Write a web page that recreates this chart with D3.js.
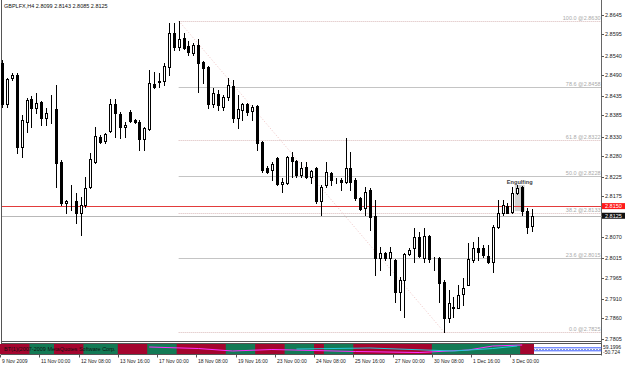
<!DOCTYPE html>
<html><head><meta charset="utf-8">
<script src="https://cdn.jsdelivr.net/npm/d3@7"></script>
<style>body{margin:0;background:#fff;overflow:hidden}svg{display:block;font-family:"Liberation Sans",Arial,sans-serif}</style>
</head><body><svg id="c" width="625" height="365"></svg>
<script>
const symbol = "GBPLFX,H4";
const lastOHLC = ["2.8099","2.8143","2.8085","2.8125"];
const opens = [2.8521,2.8414,2.8482,2.8490,2.8303,2.8368,2.8427,2.8404,2.8420,2.8378,2.8394,2.8402,2.8264,2.8158,2.8161,2.8163,2.8132,2.8153,2.8199,2.8264,
2.8329,2.8318,2.8344,2.8414,2.8389,2.8355,2.8394,2.8373,2.8368,2.8324,2.8350,2.8466,2.8474,2.8474,2.8510,2.8598,2.8562,2.8586,2.8565,2.8547,
2.8567,2.8523,2.8510,2.8414,2.8440,2.8407,2.8433,2.8461,2.8378,2.8399,2.8414,2.8396,2.8409,2.8316,2.8249,2.8244,2.8274,2.8207,2.8210,2.8277,
2.8267,2.8231,2.8251,2.8225,2.8249,2.8163,2.8205,2.8236,2.8218,2.8218,2.8212,2.8249,2.8218,2.8171,2.8145,2.8192,2.8124,2.8016,2.8029,2.8016,
2.8010,2.7928,2.7959,2.8026,2.8041,2.8070,2.8016,2.8073,2.8013,2.8016,2.7954,2.7860,2.7886,2.7886,2.7922,2.7946,2.8010,2.8041,2.8041,2.8021,
2.8005,2.8096,2.8132,2.8150,2.8135,2.8184,2.8199,2.8137,2.8099];
const highs = [2.8528,2.8482,2.8495,2.8495,2.8386,2.8430,2.8435,2.8443,2.8422,2.8404,2.8438,2.8464,2.8269,2.8166,2.8205,2.8184,2.8174,2.8225,2.8287,2.8355,
2.8334,2.8339,2.8427,2.8427,2.8394,2.8368,2.8399,2.8376,2.8373,2.8355,2.8503,2.8497,2.8495,2.8521,2.8624,2.8624,2.8630,2.8598,2.8578,2.8573,
2.8583,2.8526,2.8513,2.8456,2.8451,2.8438,2.8482,2.8477,2.8438,2.8417,2.8417,2.8412,2.8412,2.8318,2.8254,2.8264,2.8277,2.8223,2.8280,2.8290,
2.8269,2.8264,2.8264,2.8244,2.8251,2.8205,2.8264,2.8238,2.8223,2.8223,2.8326,2.8290,2.8223,2.8174,2.8199,2.8197,2.8166,2.8044,2.8031,2.8044,
2.8013,2.7966,2.8029,2.8041,2.8093,2.8083,2.8093,2.8075,2.8018,2.8018,2.7959,2.7933,2.7915,2.7946,2.7964,2.8054,2.8057,2.8070,2.8049,2.8049,
2.8101,2.8166,2.8166,2.8158,2.8199,2.8205,2.8202,2.8145,2.8143];
const lows = [2.8407,2.8407,2.8477,2.8287,2.8277,2.8342,2.8355,2.8391,2.8360,2.8360,2.8365,2.8199,2.8153,2.8132,2.8140,2.8106,2.8075,2.8148,2.8197,2.8262,
2.8313,2.8313,2.8342,2.8329,2.8326,2.8329,2.8368,2.8365,2.8295,2.8295,2.8347,2.8456,2.8459,2.8464,2.8490,2.8554,2.8554,2.8557,2.8541,2.8541,
2.8446,2.8469,2.8404,2.8407,2.8399,2.8399,2.8425,2.8368,2.8352,2.8373,2.8386,2.8373,2.8295,2.8238,2.8236,2.8218,2.8205,2.8186,2.8207,2.8225,
2.8225,2.8225,2.8223,2.8210,2.8158,2.8127,2.8199,2.8205,2.8210,2.8192,2.8210,2.8192,2.8166,2.8140,2.8127,2.8088,2.7972,2.7985,2.8010,2.7972,
2.7902,2.7881,2.7863,2.8023,2.8005,2.8018,2.8005,2.8005,2.7985,2.7902,2.7825,2.7850,2.7863,2.7886,2.7894,2.7946,2.8005,2.8010,2.8018,2.8003,
2.7979,2.8093,2.8127,2.8132,2.8132,2.8181,2.8127,2.8080,2.8085];
const closes = [2.8414,2.8479,2.8490,2.8303,2.8373,2.8425,2.8404,2.8417,2.8378,2.8391,2.8393,2.8262,2.8158,2.8163,2.8160,2.8132,2.8153,2.8197,2.8272,2.8331,
2.8316,2.8337,2.8414,2.8391,2.8355,2.8360,2.8370,2.8368,2.8324,2.8352,2.8469,2.8459,2.8472,2.8513,2.8598,2.8562,2.8583,2.8560,2.8549,2.8567,
2.8521,2.8508,2.8414,2.8443,2.8412,2.8433,2.8464,2.8378,2.8402,2.8414,2.8394,2.8407,2.8313,2.8244,2.8238,2.8259,2.8207,2.8212,2.8277,2.8267,
2.8231,2.8249,2.8225,2.8241,2.8163,2.8199,2.8238,2.8218,2.8217,2.8212,2.8249,2.8212,2.8171,2.8142,2.8186,2.8122,2.8016,2.8029,2.8016,2.8031,
2.7928,2.7959,2.8026,2.8036,2.8070,2.8021,2.8073,2.8013,2.8012,2.7951,2.7860,2.7899,2.7888,2.7920,2.7938,2.8013,2.8041,2.8031,2.8023,2.8005,
2.8096,2.8132,2.8153,2.8132,2.8184,2.8197,2.8137,2.8096,2.8125];

const timeLabels = ["9 Nov 2009","11 Nov 00:00","12 Nov 08:00","13 Nov 16:00","17 Nov 00:00","18 Nov 08:00","19 Nov 16:00","23 Nov 00:00","24 Nov 08:00","25 Nov 16:00","27 Nov 00:00","30 Nov 08:00","1 Dec 16:00","3 Dec 00:00"];
const timeLabelBars = [0,8,16,24,32,40,48,56,64,72,80,88,96,104];
const priceTicks = [2.8645,2.8595,2.8540,2.8490,2.8435,2.8385,2.8330,2.8280,2.8225,2.8175,2.8070,2.8015,2.7965,2.7910,2.7860,2.7805];

const fibRatios = [0,23.6,38.2,50,61.8,78.6,100];
const fibLabels = ["0.0 @2.7825","23.6 @2.8015","38.2 @2.8133","50.0 @2.8228","61.8 @2.8322","78.6 @2.8458","100.0 @2.8630"];
const fibDotted = [true,false,true,false,true,false,true];
const fibHigh = 2.8630, fibLow = 2.7825, fibHighBar = 36, fibLowBar = 90;

const askPrice = 2.8150, bidPrice = 2.8125;
const patternName = "Engulfing", patternBars = [105,106], patternRange = [2.8137,2.8205];

const subFrom  = [0,6,11,17,24,30,36,46,52,58,64,66,72,88,106];
const subTo    = [6,11,17,24,30,36,46,52,58,64,66,72,88,106,108];
const subState = ["dn","up","dn","up","dn","up","dn","up","dn","up","dn","up","dn","up","dn"];
const magBars = [30,40,47,55,72,85,95,100,106];
const magVals = [0.3,0.45,0.7,0.55,0.75,0.85,0.6,0.2,0.1];
const cyanBars = [60,75,92,100,105];
const cyanVals = [0.5,0.4,0.7,0.45,0.2];
const subTitle = "BT(1)(2007-2009 MetaQuotes Software Corp.";
const subAxisLabels = ["59.1996","-50.724"];

const svg = d3.select("#c");
const axisX = 601.5, mainBottom = 341.5, subTop = 343.5, subBottom = 354.5;
const x = d3.scaleLinear().domain([0, opens.length - 1]).range([2, 532]);
const y = d3.scaleLinear().domain([2.7805, 2.8645]).range([339.3, 15]);
const sy = d3.scaleLinear().domain([0, 1]).range([subTop + 0.5, subBottom - 0.5]);
const px = v => Math.round(v) + 0.5;
const fs = 5.5;

// frame
svg.append("line").attr("x1",1.5).attr("x2",1.5).attr("y1",0).attr("y2",subBottom).attr("stroke","#555");
svg.append("line").attr("x1",1.5).attr("x2",axisX).attr("y1",mainBottom).attr("y2",mainBottom).attr("stroke","#555");
svg.append("line").attr("x1",axisX).attr("x2",axisX).attr("y1",0).attr("y2",subBottom+1).attr("stroke","#666");

// pattern highlight box
svg.append("rect")
  .attr("x", x(patternBars[0]) - 2.5).attr("width", x(patternBars[1]) - x(patternBars[0]) + 5)
  .attr("y", y(patternRange[1])).attr("height", y(patternRange[0]) - y(patternRange[1]))
  .attr("fill", "#d4d4d4");

// fibo levels
const fibY = fibRatios.map(r => y(fibLow + r / 100 * (fibHigh - fibLow)));
fibRatios.forEach((r, i) => {
  svg.append("line").attr("x1", x(fibHighBar)).attr("x2", axisX - 0.5)
    .attr("y1", px(fibY[i])).attr("y2", px(fibY[i]))
    .attr("stroke", fibDotted[i] ? "#d9b9b9" : "#c4c4c4")
    .attr("stroke-dasharray", fibDotted[i] ? "1,1" : null);
  svg.append("text").attr("x", axisX - 1).attr("y", px(fibY[i]) - 1.5)
    .attr("text-anchor", "end").attr("font-size", fs).attr("fill", "#aaa").text(fibLabels[i]);
});
svg.append("line").attr("x1", x(fibHighBar)).attr("y1", y(fibHigh)).attr("x2", x(fibLowBar)).attr("y2", y(fibLow))
  .attr("stroke", "#f0c4c4").attr("stroke-dasharray", "1,2");

// bid / ask lines
svg.append("line").attr("x1",2).attr("x2",axisX).attr("y1",px(y(bidPrice))).attr("y2",px(y(bidPrice))).attr("stroke","#b8b8b8");
svg.append("line").attr("x1",2).attr("x2",axisX).attr("y1",px(y(askPrice))).attr("y2",px(y(askPrice))).attr("stroke","#e23b3b");

// candles
const data = opens.map((o, i) => ({i, o, h: highs[i], l: lows[i], c: closes[i]}));
const g = svg.append("g").attr("shape-rendering", "crispEdges");
g.selectAll(".w").data(data).join("line")
  .attr("x1", d => Math.round(x(d.i)) + 0.5).attr("x2", d => Math.round(x(d.i)) + 0.5)
  .attr("y1", d => Math.round(y(d.h))).attr("y2", d => Math.round(y(d.l)) + 1)
  .attr("stroke", "#000");
g.selectAll(".b").data(data).join("rect")
  .attr("x", d => Math.round(x(d.i)) - 0.5).attr("width", 2)
  .attr("y", d => Math.round(y(Math.max(d.o, d.c))) + 0.5)
  .attr("height", d => Math.max(0, Math.round(y(Math.min(d.o, d.c))) - Math.round(y(Math.max(d.o, d.c)))))
  .attr("fill", d => d.c >= d.o ? "#fff" : "#000").attr("stroke", "#000");

// pattern label
svg.append("text").attr("x", (x(patternBars[0]) + x(patternBars[1])) / 2).attr("y", 183.5)
  .attr("text-anchor", "middle").attr("font-size", 5.6).attr("font-weight", "bold").attr("fill", "#444").text(patternName);

// price axis
priceTicks.forEach(v => {
  svg.append("line").attr("x1", axisX).attr("x2", axisX + 2.5).attr("y1", px(y(v))).attr("y2", px(y(v))).attr("stroke", "#555");
  svg.append("text").attr("x", 605).attr("y", y(v) + 2).attr("font-size", fs).attr("fill", "#222").text(v.toFixed(4));
});
[[askPrice, "#ff1a1a"], [bidPrice, "#111"]].forEach(([v, col]) => {
  svg.append("rect").attr("x", 602).attr("width", 23).attr("y", y(v) - 3).attr("height", 6).attr("fill", col);
  svg.append("text").attr("x", 605).attr("y", y(v) + 2).attr("font-size", fs).attr("fill", "#fff").text(v.toFixed(4));
});

// header
svg.append("text").attr("x", 4).attr("y", 8).attr("font-size", fs).attr("fill", "#111")
  .text(symbol + "  " + lastOHLC.join(" "));

// sub window
svg.append("rect").attr("x", 1.5).attr("y", subTop).attr("width", axisX - 1.5).attr("height", subBottom - subTop)
  .attr("fill", "#fff").attr("stroke", "#555");
[[0.38, "#3a5cff", null], [0.55, "#8899cc", "2,1"], [0.68, "#3a5cff", null]].forEach(([f, col, da]) => {
  svg.append("line").attr("x1", 2).attr("x2", axisX).attr("y1", sy(f)).attr("y2", sy(f)).attr("stroke", col).attr("stroke-dasharray", da);
});
subFrom.forEach((f, i) => {
  svg.append("rect").attr("x", x(f) - 2).attr("width", x(subTo[i]) - x(f) + 4)
    .attr("y", subTop + 0.5).attr("height", subBottom - subTop - 1)
    .attr("fill", subState[i] === "up" ? "#137a55" : "#a4052e");
});
const lineGen = d3.line().x(d => x(d[0])).y(d => sy(d[1]));
svg.append("path").attr("d", lineGen(magBars.map((b, i) => [b, magVals[i]]))).attr("fill", "none").attr("stroke", "#ff30ff").attr("stroke-width", 1);
svg.append("path").attr("d", lineGen(cyanBars.map((b, i) => [b, cyanVals[i]]))).attr("fill", "none").attr("stroke", "#22c8d8").attr("stroke-width", 1);
svg.append("text").attr("x", 4).attr("y", 351).attr("font-size", fs).attr("fill", "#111").text(subTitle);
svg.append("text").attr("x", 603).attr("y", 348.5).attr("font-size", 5).attr("fill", "#222").text(subAxisLabels[0]);
svg.append("text").attr("x", 603).attr("y", 353.5).attr("font-size", 5).attr("fill", "#222").text(subAxisLabels[1]);

// time axis
timeLabelBars.forEach((b, i) => {
  const tx = Math.round(x(b)) - 1.5;
  svg.append("line").attr("x1", tx).attr("x2", tx).attr("y1", subBottom).attr("y2", subBottom + 3).attr("stroke", "#555");
  svg.append("text").attr("x", tx + 1.5).attr("y", 362.5).attr("font-size", 5).attr("fill", "#222").text(timeLabels[i]);
});
</script></body></html>
